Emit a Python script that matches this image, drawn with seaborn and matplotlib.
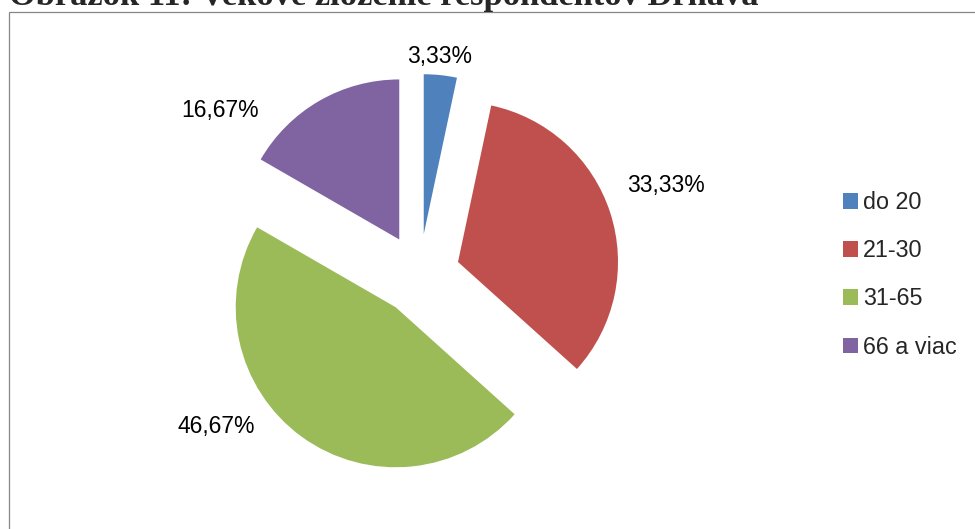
import numpy as np
import matplotlib
matplotlib.use("Agg")
import matplotlib.pyplot as plt
from matplotlib.patches import Rectangle, Patch
import seaborn as sns

# ---- data ----
categories = ["do 20", "21-30", "31-65", "66 a viac"]
values = [3.33, 33.33, 46.67, 16.67]
colors = ["#4F81BD", "#C0504D", "#9BBB59", "#8064A2"]
title = "Obrázok 11: Vekové zloženie respondentov Drnava"

# label placement (best-fit style): radial distance and clockwise angle tweak
label_dist = [1.115, 1.385, 1.345, 1.38]
label_turn = [-0.8, -2.2, 20.4, -24.3]

sns.set_theme(style="white")
plt.rcParams["font.family"] = ["Liberation Sans", "DejaVu Sans"]

W, H = 975, 529
fig = plt.figure(figsize=(W / 100, H / 100), dpi=100)
fig.patch.set_facecolor("white")

# frame of the chart area
fig.patches.append(Rectangle((9 / W, -0.1), 1.2, 1.1 - 12 / H,
                             transform=fig.transFigure, fill=False,
                             edgecolor="#878787", linewidth=0.9))

# title (clipped at the top, bold serif)
t = fig.text(9 / W, 1 - 5.5 / H, title, ha="left", va="baseline",
             fontfamily="Liberation Serif", fontweight="bold", fontsize=20)
fig.canvas.draw()
bb = t.get_window_extent()
t.set_fontsize(20 * 749 / bb.width)

# pie axes: center (419.5, 274.5) px, radius 160 px
R = 160.0
cx, cy = 419.5, 274.5
half = 260
ax = fig.add_axes([(cx - half) / W, (H - cy - half) / H, 2 * half / W, 2 * half / H])
ax.axis("off")

wedges, _ = ax.pie(values, colors=colors, startangle=90, counterclock=False,
                   explode=[0.253] * len(values), radius=1,
                   wedgeprops=dict(linewidth=0), frame=False)
ax.set_xlim(-half / R, half / R)
ax.set_ylim(-half / R, half / R)
ax.set_aspect("equal")

for w, v, d, turn in zip(wedges, values, label_dist, label_turn):
    mid = np.deg2rad((w.theta1 + w.theta2) / 2 - turn)
    x0, y0 = w.center
    ax.text(x0 + d * np.cos(mid), y0 + d * np.sin(mid),
            f"{v:.2f}%".replace(".", ","), ha="center", va="center",
            fontsize=16.5, color="black", clip_on=False)

handles = [Patch(facecolor=c, edgecolor="none") for c in colors]
fig.legend(handles, categories, loc="upper left",
           bbox_to_anchor=(843 / W, 1 - 191 / H), bbox_transform=fig.transFigure,
           frameon=False, fontsize=16.8, handlelength=0.65, handleheight=0.65,
           handletextpad=0.2, labelspacing=1.08, borderpad=0, borderaxespad=0)

fig.savefig("out.png", dpi=100, facecolor="white")
